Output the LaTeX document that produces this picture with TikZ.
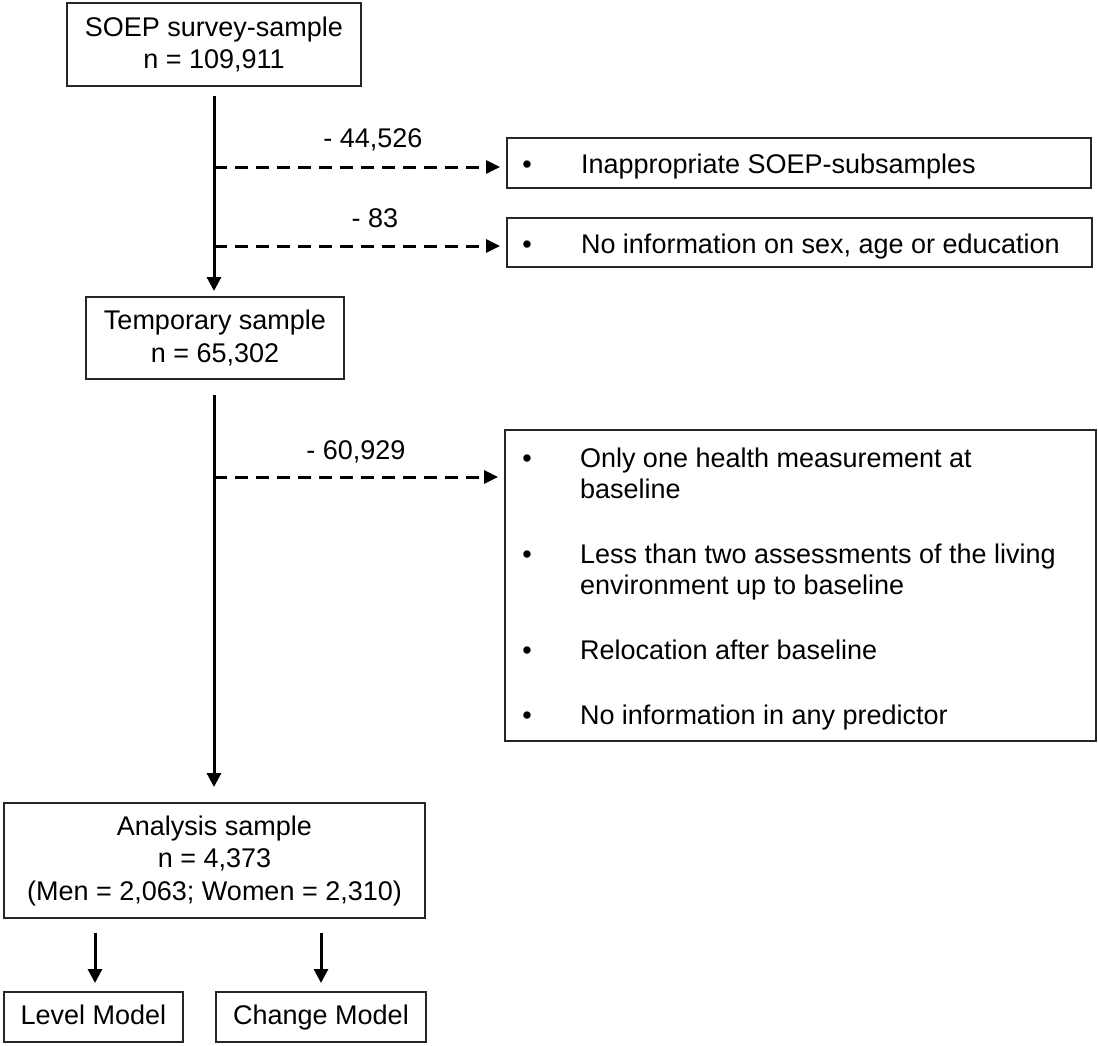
\documentclass[tikz,border=0pt]{standalone}
\usepackage{fontspec}
\setmainfont{Liberation Sans}
\usetikzlibrary{arrows.meta}
\begin{document}
\begin{tikzpicture}[x=1pt,y=-1pt,
  every node/.style={font=\fontsize{27}{32.5}\selectfont, inner sep=0pt, outer sep=0pt},
  box/.style={draw=black!85, line width=2pt, align=center},
  onebox/.style={box, text height=19.5pt, text depth=5.5pt},
  flow/.style={line width=3pt, -{Triangle[length=14pt,width=14pt]}},
  drop/.style={line width=3pt, dash pattern=on 13pt off 8pt, -{Triangle[length=14pt,width=13pt]}},
  lbl/.style={anchor=base},
  item/.style={anchor=base west},
  dot/.style={anchor=base}]
\useasboundingbox (0,0) rectangle (1098,1045);

% main boxes
\node[box, minimum width=294pt, minimum height=83pt] (soep) at (214,44.5) {SOEP survey-sample\\n = 109,911};
\node[box, minimum width=258pt, minimum height=82pt] (temp) at (215,338) {Temporary sample\\n = 65,302};
\node[box, minimum width=421pt, minimum height=115pt] (ana) at (214.5,860.5) {Analysis sample\\n = 4,373\\(Men = 2,063; Women = 2,310)};
\node[onebox, minimum width=179pt, minimum height=50pt] (level) at (93.5,1017) {Level Model};
\node[onebox, minimum width=210pt, minimum height=50pt] (change) at (321,1017) {Change Model};

% exclusion boxes
\node[box, minimum width=584pt, minimum height=50pt] (ex1) at (799,163) {};
\node[box, minimum width=585pt, minimum height=49pt] (ex2) at (799.5,242.5) {};
\node[box, minimum width=591pt, minimum height=311pt] (ex3) at (800.5,585.5) {};

\node[dot] (d1) at (527,173) {•};
\node[item] (t1) at (581,173) {Inappropriate SOEP-subsamples};
\node[dot] (d2) at (527,253) {•};
\node[item] (t2) at (581,253) {No information on sex, age or education};

\node[dot] (d3) at (527,467) {•};
\node[item] (t3a) at (580,467) {Only one health measurement at};
\node[item] (t3b) at (580,498) {baseline};
\node[dot] (d4) at (527,563) {•};
\node[item] (t4a) at (580,563) {Less than two assessments of the living};
\node[item] (t4b) at (580,594) {environment up to baseline};
\node[dot] (d5) at (527,659) {•};
\node[item] (t5) at (580,659) {Relocation after baseline};
\node[dot] (d6) at (527,724) {•};
\node[item] (t6) at (580,724) {No information in any predictor};

% labels
\node[lbl] (l1) at (373,147) {- 44,526};
\node[lbl] (l2) at (375,227) {- 83};
\node[lbl] (l3) at (356,459) {- 60,929};

% main flow
\draw[flow, shorten >=6pt] ([yshift=-10pt]soep.south -| 214,0) -- (214,297);
\draw[flow, shorten >=16pt] ([yshift=-16pt]temp.south -| 214,0) -- (ana.north -| 214,0);

% drop-outs
\coordinate (j1) at (214,167);
\coordinate (j2) at (214,246);
\coordinate (j3) at (214,477);
\draw[drop, shorten >=7pt] (j1) -- (j1 -| ex1.west);
\draw[drop, shorten >=7pt] (j2) -- (j2 -| ex2.west);
\draw[drop, shorten >=7pt] (j3) -- (j3 -| ex3.west);

% to models
\coordinate (a1) at (95,933);
\coordinate (a2) at (321,933);
\draw[flow, shorten >=9pt] (a1) -- (a1 |- level.north);
\draw[flow, shorten >=9pt] (a2) -- (a2 |- change.north);
\end{tikzpicture}
\end{document}
